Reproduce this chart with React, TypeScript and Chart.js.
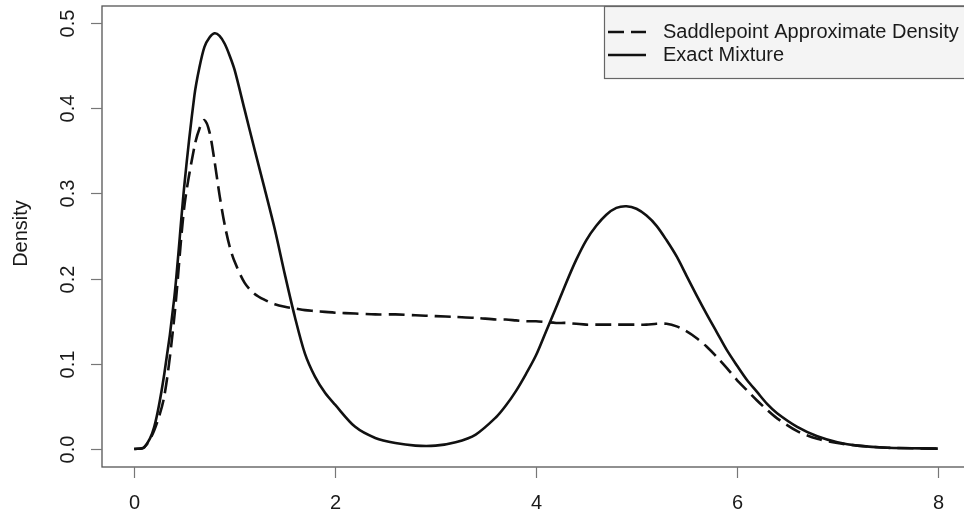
import React, { useEffect, useRef } from "react";
import { Chart, registerables } from "chart.js";

Chart.register(...registerables);

// Evaluation grid (x) shared by both densities
const xGrid = [
  0, 0.1, 0.2, 0.3, 0.4, 0.5, 0.6, 0.65, 0.7, 0.75, 0.8, 0.85, 0.9, 0.95, 1.0,
  1.1, 1.2, 1.3, 1.4, 1.5, 1.6, 1.7, 1.8, 1.9, 2.0, 2.2, 2.4, 2.6, 2.8, 3.0,
  3.2, 3.4, 3.6, 3.7, 3.8, 3.9, 4.0, 4.1, 4.2, 4.3, 4.4, 4.5, 4.6, 4.7, 4.8,
  4.9, 5.0, 5.1, 5.2, 5.3, 5.4, 5.5, 5.6, 5.7, 5.8, 5.9, 6.0, 6.1, 6.2, 6.3,
  6.4, 6.6, 6.8, 7.0, 7.2, 7.5, 8.0,
];

// Saddlepoint approximation (dashed)
const saddlepoint = [
  0.0, 0.002, 0.022, 0.062, 0.155, 0.285, 0.355, 0.376, 0.386, 0.372, 0.338,
  0.298, 0.264, 0.238, 0.22, 0.195, 0.182, 0.175, 0.17, 0.167, 0.165, 0.163,
  0.162, 0.161, 0.16, 0.159, 0.158, 0.158, 0.157, 0.156, 0.155, 0.154, 0.152,
  0.152, 0.151, 0.15, 0.15, 0.149, 0.148, 0.148, 0.147, 0.146, 0.146, 0.146,
  0.146, 0.146, 0.146, 0.146, 0.147, 0.147, 0.144, 0.138, 0.13, 0.12, 0.108,
  0.095, 0.081, 0.069, 0.057, 0.046, 0.036, 0.021, 0.012, 0.007, 0.004,
  0.0015, 0.0005,
];

// Exact mixture density (solid)
const exactMixture = [
  0.0, 0.002, 0.026, 0.088, 0.178, 0.31, 0.415, 0.448, 0.472, 0.483, 0.488,
  0.485, 0.476, 0.462, 0.445, 0.398, 0.351, 0.305, 0.258, 0.205, 0.155, 0.112,
  0.085, 0.066, 0.052, 0.026, 0.013, 0.007, 0.004, 0.004, 0.008, 0.017, 0.037,
  0.051, 0.068, 0.088, 0.11, 0.138, 0.166, 0.195, 0.222, 0.245, 0.262, 0.275,
  0.283, 0.285, 0.282, 0.274, 0.262, 0.245, 0.226, 0.203, 0.18, 0.158, 0.137,
  0.116, 0.098, 0.081, 0.067, 0.053, 0.042, 0.026, 0.015, 0.008, 0.004,
  0.0015, 0.0005,
];

const xTicks = [0, 2, 4, 6, 8];
const yTicks = [0.0, 0.1, 0.2, 0.3, 0.4, 0.5];
const yTickLabels = ["0.0", "0.1", "0.2", "0.3", "0.4", "0.5"];
const legendLabels = ["Saddlepoint Approximate Density", "Exact Mixture"];
const yTitle = "Density";

const FONT = '20px "Liberation Sans", Arial, Helvetica, sans-serif';
const DASH = [16, 7];

const frame = {
  id: "rFrame",
  afterDraw(chart: any) {
    const { ctx, chartArea, scales } = chart;
    const xs = scales.x;
    const ys = scales.y;
    ctx.save();

    // plot box
    ctx.strokeStyle = "#555";
    ctx.lineWidth = 1.3;
    ctx.setLineDash([]);
    ctx.strokeRect(
      chartArea.left,
      chartArea.top,
      chartArea.right - chartArea.left,
      chartArea.bottom - chartArea.top
    );

    // x axis ticks + labels
    ctx.strokeStyle = "#777";
    ctx.lineWidth = 1.2;
    ctx.fillStyle = "#1a1a1a";
    ctx.font = FONT;
    ctx.textAlign = "center";
    ctx.textBaseline = "middle";
    xTicks.forEach((v) => {
      const px = Math.round(xs.getPixelForValue(v)) + 0.5;
      ctx.beginPath();
      ctx.moveTo(px, chartArea.bottom);
      ctx.lineTo(px, chartArea.bottom + 11);
      ctx.stroke();
      ctx.fillText(String(v), px, chartArea.bottom + 36);
    });

    // y axis ticks + rotated labels
    yTicks.forEach((v, i) => {
      const py = Math.round(ys.getPixelForValue(v)) + 0.5;
      ctx.beginPath();
      ctx.moveTo(chartArea.left, py);
      ctx.lineTo(chartArea.left - 11, py);
      ctx.stroke();
      ctx.save();
      ctx.translate(chartArea.left - 34, py);
      ctx.rotate(-Math.PI / 2);
      ctx.fillText(yTickLabels[i], 0, 0);
      ctx.restore();
    });

    // y axis title
    ctx.save();
    ctx.translate(21, (chartArea.top + chartArea.bottom) / 2 - 3);
    ctx.rotate(-Math.PI / 2);
    ctx.fillText(yTitle, 0, 0);
    ctx.restore();

    // legend (top right)
    const lx = 604;
    const ly = chartArea.top;
    const lw = chartArea.right - lx;
    const lh = 72;
    ctx.fillStyle = "#f4f4f4";
    ctx.fillRect(lx, ly, lw, lh);
    ctx.strokeStyle = "#666";
    ctx.lineWidth = 1.2;
    ctx.strokeRect(lx + 0.5, ly + 0.5, lw, lh);

    const rows = [32, 55];
    ctx.strokeStyle = "#111";
    ctx.lineWidth = 2.6;
    ctx.lineCap = "butt";
    rows.forEach((ry, i) => {
      ctx.setLineDash(i === 0 ? DASH : []);
      ctx.beginPath();
      ctx.moveTo(608, ry);
      ctx.lineTo(646, ry);
      ctx.stroke();
    });
    ctx.setLineDash([]);
    ctx.fillStyle = "#1a1a1a";
    ctx.textAlign = "left";
    rows.forEach((ry, i) => {
      ctx.fillText(legendLabels[i], 663, ry);
    });

    ctx.restore();
  },
};

export default function App() {
  const ref = useRef<HTMLCanvasElement | null>(null);

  useEffect(() => {
    if (!ref.current) return;
    const toPoints = (ys: number[]) => xGrid.map((x, i) => ({ x, y: ys[i] }));
    const chart = new Chart(ref.current, {
      type: "line",
      data: {
        datasets: [
          {
            label: legendLabels[0],
            data: toPoints(saddlepoint),
            borderColor: "#111",
            borderWidth: 2.6,
            borderDash: DASH,
            pointRadius: 0,
            fill: false,
            tension: 0.3,
          },
          {
            label: legendLabels[1],
            data: toPoints(exactMixture),
            borderColor: "#111",
            borderWidth: 2.6,
            pointRadius: 0,
            fill: false,
            tension: 0.3,
          },
        ],
      },
      options: {
        responsive: false,
        animation: false,
        devicePixelRatio: 1,
        layout: { padding: { left: 102, right: 10, top: 6, bottom: 50 } },
        plugins: {
          legend: { display: false },
          tooltip: { enabled: false },
        },
        scales: {
          x: { type: "linear", min: -0.32, max: 8.32, display: false },
          y: { type: "linear", min: -0.0211, max: 0.52, display: false },
        },
      },
      plugins: [frame],
    });
    return () => chart.destroy();
  }, []);

  return (
    <div
      style={{
        position: "absolute",
        left: 0,
        top: 0,
        width: 964,
        height: 517,
        overflow: "hidden",
        background: "#fff",
      }}
    >
      <canvas ref={ref} width={980} height={517} style={{ display: "block" }} />
    </div>
  );
}
